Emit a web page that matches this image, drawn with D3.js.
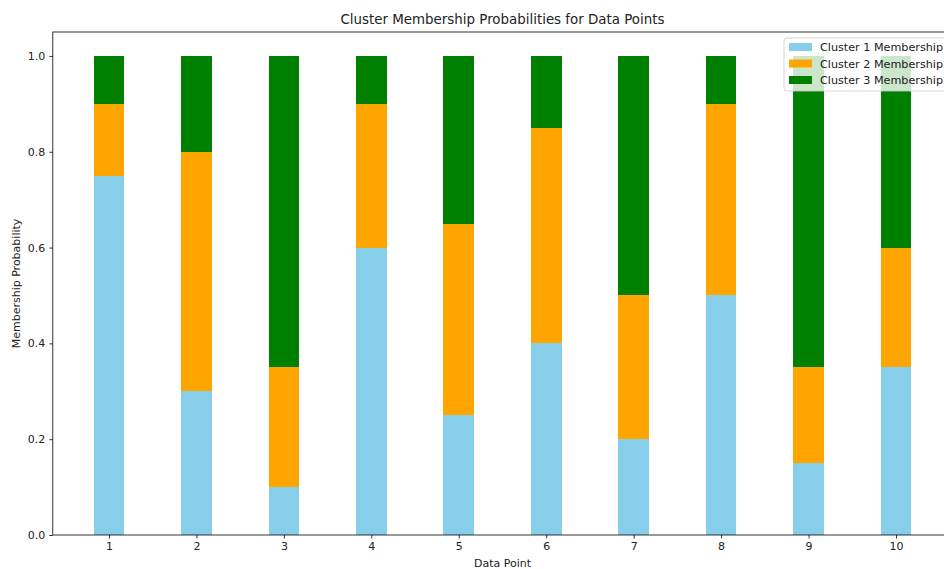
<!DOCTYPE html>
<html><head><meta charset="utf-8">
<script src="https://cdn.jsdelivr.net/npm/d3@7"></script>
<style>body{margin:0;background:#fff}svg{display:block;font-family:"DejaVu Sans",sans-serif}</style>
</head><body><svg id="c" width="944" height="569"></svg>
<script>
const categories = [1,2,3,4,5,6,7,8,9,10];
const cluster1 = [0.75,0.30,0.10,0.60,0.25,0.40,0.20,0.50,0.15,0.35];
const cluster2 = [0.15,0.50,0.25,0.30,0.40,0.45,0.30,0.40,0.20,0.25];
const cluster3 = [0.10,0.20,0.65,0.10,0.35,0.15,0.50,0.10,0.65,0.40];
const seriesNames = ["Cluster 1 Membership","Cluster 2 Membership","Cluster 3 Membership"];
const colors = ["#87ceeb","#ffa500","#008000"];
const yTicks = [0,0.2,0.4,0.6,0.8,1.0];
const barWidth = 0.35;

const svg = d3.select("#c");
const L = 52.8, R = 952.2, T = 32, B = 535;
const x = d3.scaleLinear().domain([0.3575,10.6425]).range([L,R]);
const y = d3.scaleLinear().domain([0,1.05]).range([B,T]);

const rows = categories.map((c,i)=>({cat:c, s0:cluster1[i], s1:cluster2[i], s2:cluster3[i]}));
const stack = d3.stack().keys(["s0","s1","s2"])(rows);

stack.forEach((layer,k)=>{
  svg.append("g").attr("shape-rendering","crispEdges").selectAll("rect").data(layer).join("rect")
    .attr("x",d=>x(d.data.cat-barWidth/2))
    .attr("width",d=>x(d.data.cat+barWidth/2)-x(d.data.cat-barWidth/2))
    .attr("y",d=>y(d[1]))
    .attr("height",d=>y(d[0])-y(d[1]))
    .attr("fill",colors[k]);
});

// axes
const xAxis = d3.axisBottom(x).tickValues(categories).tickFormat(d3.format("d")).tickSizeOuter(0).tickSize(3.5).tickPadding(4);
const gx = svg.append("g").attr("transform",`translate(0,${B})`).call(xAxis);
const yAxis = d3.axisLeft(y).tickValues(yTicks).tickFormat(d3.format(".1f")).tickSizeOuter(0).tickSize(3.5).tickPadding(4);
const gy = svg.append("g").attr("transform",`translate(${L},0)`).call(yAxis);
[gx,gy].forEach(g=>{
  g.select(".domain").remove();
  g.selectAll("text").attr("font-size",11).attr("font-family","DejaVu Sans").attr("fill","#222");
  g.selectAll("line").attr("stroke","#000").attr("stroke-width",0.8);
});
// spines
svg.append("rect").attr("x",L).attr("y",T).attr("width",R-L).attr("height",B-T)
  .attr("fill","none").attr("stroke","#000").attr("stroke-width",0.8);

// title & labels
svg.append("text").attr("x",(L+R)/2).attr("y",24).attr("text-anchor","middle")
  .attr("font-size",13.4).attr("fill","#222").text("Cluster Membership Probabilities for Data Points");
svg.append("text").attr("x",(L+R)/2).attr("y",567).attr("text-anchor","middle")
  .attr("font-size",11).attr("fill","#222").text("Data Point");
svg.append("text").attr("transform",`translate(20,${(T+B)/2}) rotate(-90)`).attr("text-anchor","middle")
  .attr("font-size",11).attr("fill","#222").text("Membership Probability");

// legend
const lg = svg.append("g").attr("transform","translate(784,38)");
lg.append("rect").attr("width",166).attr("height",53).attr("rx",3)
  .attr("fill","#fff").attr("fill-opacity",0.8).attr("stroke","#ccc").attr("stroke-width",0.8);
seriesNames.forEach((n,i)=>{
  const yy = 9 + i*16.5;
  lg.append("rect").attr("x",5).attr("y",yy-4).attr("width",23).attr("height",8).attr("fill",colors[i]);
  lg.append("text").attr("x",36).attr("y",yy+4).attr("font-size",11.2).attr("fill","#222").text(n);
});
</script></body></html>
